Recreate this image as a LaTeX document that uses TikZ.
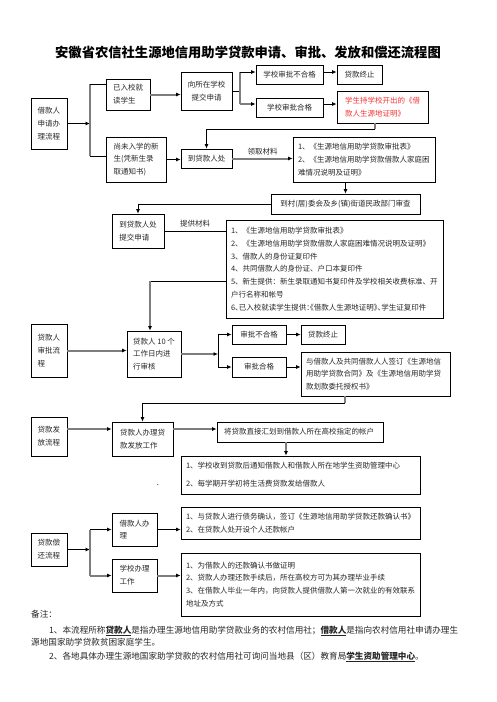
\documentclass[tikz,border=0pt]{standalone}
\usepackage{fontspec}
\setmainfont{Noto Sans CJK SC}
\usetikzlibrary{arrows.meta}
\definecolor{linegray}{RGB}{125,125,125}
\definecolor{proofred}{RGB}{245,50,50}
\newcommand{\boxfont}{\fontsize{7.5}{12.8}\selectfont}
\newcommand{\notefont}{\fontsize{8.6}{11.3}\selectfont}
\newcommand{\keyword}[1]{\underline{\textbf{#1}}}

\begin{document}
\begin{tikzpicture}[x=1pt,y=-1pt,
    flowbox/.style={draw=black, line width=0.8pt, inner sep=0pt, align=left, font=\boxfont, text=black!85},
    listbox/.style={flowbox, inner xsep=5pt, text width=#1},
    thinline/.style={draw=black, line width=0.8pt},
    grayline/.style={draw=linegray, line width=2pt},
    arr/.style={-{Latex[length=4.5pt,width=4pt,color=black]}},
    matlabel/.style={font=\boxfont, text=black!85, inner sep=1pt},
    notetext/.style={anchor=west, font=\notefont, text=black!85, inner sep=0pt}]
    \useasboundingbox (0,0) rectangle (496,702);

    \node[font=\fontsize{13.3}{16}\selectfont\bfseries] (title) at (248,52) {安徽省农信社生源地信用助学贷款申请、审批、发放和偿还流程图};

    % application
    \node[flowbox, minimum width=36pt, minimum height=51pt] (apply) at (49,123.5) {借款人\\申请办\\理流程};
    \node[flowbox, minimum width=44pt, minimum height=31pt] (enrolled) at (128,94.5) {已入校就\\读学生};
    \node[flowbox, align=center, minimum width=51pt, minimum height=38pt] (school) at (206.5,91) {向所在学校\\提交申请};
    \node[flowbox, minimum width=67pt, minimum height=19pt] (failone) at (289.5,74.5) {学校审批不合格};
    \node[flowbox, minimum width=45pt, minimum height=19pt] (stopone) at (359.5,74.5) {贷款终止};
    \node[flowbox, minimum width=67pt, minimum height=19pt] (passone) at (289.5,107.5) {学校审批合格};
    \node[flowbox, text=proofred, minimum width=91pt, minimum height=32pt] (proof) at (382.5,107) {学生持学校开出的《借\\款人生源地证明》};
    \node[flowbox, minimum width=60pt, minimum height=45pt] (newstu) at (136,159.5) {尚未入学的新\\生(凭新生录\\取通知书)};
    \node[flowbox, minimum width=51pt, minimum height=19pt] (lender) at (206.5,158.5) {到贷款人处};
    \node[listbox=132pt, minimum width=142pt, minimum height=45pt] (matone) at (364,159.5) {1、《生源地信用助学贷款审批表》\\2、《生源地信用助学贷款借款人家庭困\\难情况说明及证明》};
    \node[flowbox, minimum width=149pt, minimum height=20pt] (village) at (345.5,204) {到村(居)委会及乡(镇)街道民政部门审查};
    \node[flowbox, minimum width=52pt, minimum height=34pt] (submit) at (138,231) {到贷款人处\\提交申请};
    \node[listbox=207pt, minimum width=217pt, minimum height=98pt] (mattwo) at (334.5,269) {1、《生源地信用助学贷款审批表》\\2、《生源地信用助学贷款借款人家庭困难情况说明及证明》\\3、借款人的身份证复印件\\4、共同借款人的身份证、户口本复印件\\5、新生提供：新生录取通知书复印件及学校相关收费标准、开\\户行名称和帐号\\{\addfontfeature{RawFeature=+halt}6、已入校就读学生提供：《借款人生源地证明》、学生证复印件}};

    % review
    \node[flowbox, minimum width=36pt, minimum height=53pt] (review) at (49,350.5) {贷款人\\审批流\\程};
    \node[flowbox, minimum width=54pt, minimum height=46pt] (check) at (154,354) {贷款人 10 个\\工作日内进\\行审核};
    \node[flowbox, minimum width=54pt, minimum height=19pt] (failtwo) at (259,334.5) {审批不合格};
    \node[flowbox, minimum width=44pt, minimum height=19pt] (stoptwo) at (323,334.5) {贷款终止};
    \node[flowbox, minimum width=54pt, minimum height=20pt] (passtwo) at (259,367) {审批合格};
    \node[listbox=139pt, minimum width=149pt, minimum height=44pt] (contract) at (375.5,374) {与借款人及共同借款人人签订《生源地信\\用助学贷款合同》及《生源地信用助学贷\\款划款委托授权书》};

    % issue
    \node[flowbox, minimum width=36pt, minimum height=39pt] (issue) at (49,436.5) {贷款发\\放流程};
    \node[flowbox, minimum width=61pt, minimum height=34pt] (disburse) at (142.5,439) {贷款人办理贷\\款发放工作};
    \node[listbox=152pt, minimum width=166pt, inner xsep=7pt, minimum height=20pt] (transfer) at (300,432) {将贷款直接汇划到借款人所在高校指定的帐户};
    \node[listbox=229pt, minimum width=239pt, minimum height=38pt] (notify) at (300.5,475) {1、学校收到贷款后通知借款人和借款人所在地学生资助管理中心\\[5pt]2、每学期开学初将生活费贷款发给借款人};
    \node[font=\boxfont, inner sep=0pt] (dot) at (158,485) {.};

    % repayment
    \node[flowbox, minimum width=36pt, minimum height=33pt] (repay) at (49,549.5) {贷款偿\\还流程};
    \node[flowbox, minimum width=45pt, minimum height=33pt] (borrower) at (134.5,529.5) {借款人办\\理};
    \node[flowbox, minimum width=45pt, minimum height=33pt] (schoolwork) at (134.5,575.5) {学校办理\\工作};
    \node[listbox=229pt, minimum width=239pt, minimum height=32pt] (confirm) at (300.5,523) {1、与贷款人进行债务确认，签订《生源地信用助学贷款还款确认书》\\2、在贷款人处开设个人还款帐户};
    \node[listbox=229pt, minimum width=239pt, minimum height=63pt] (certify) at (300.5,584.5) {1、为借款人的还款确认书做证明\\2、贷款人办理还款手续后，所在高校方可为其办理毕业手续\\3、在借款人毕业一年内，向贷款人提供借款人第一次就业的有效联系\\地址及方式};

    % notes
    \node[notetext] (remark) at (31,614) {备注：};
    \node[notetext] (noteone) at (49,631) {1、本流程所称\keyword{贷款人}是指办理生源地信用助学贷款业务的农村信用社；\keyword{借款人}是指向农村信用社申请办理生};
    \node[notetext] (noteonemore) at (31,642.3) {源地国家助学贷款贫困家庭学生。};
    \node[notetext] (notetwo) at (49,656.7) {2、各地具体办理生源地国家助学贷款的农村信用社可询问当地县（区）教育局\keyword{学生资助管理中心}。};

    % connectors
    \coordinate (sa) at (90,123.5);
    \coordinate (sat) at (90,84);
    \coordinate (sab) at (90,156);
    \draw[thinline, arr] (apply.east) -- (sa);
    \draw[grayline] (sat) -- (sab);
    \draw[thinline] (sat) -- (sat -| enrolled.west);
    \draw[thinline] (sab) -- (sab -| newstu.west);
    \draw[grayline, arr] (enrolled.east) -- (enrolled.east -| school.west);
    \coordinate (sb) at (240,91);
    \coordinate (sbt) at (240,72);
    \coordinate (sbb) at (240,104);
    \draw[thinline] (school.east) -- (sb);
    \draw[grayline] (sbt) -- (sbb);
    \draw[thinline, arr] (sbt) -- (sbt -| failone.west);
    \draw[grayline, arr] (sbb) -- (sbb -| passone.west);
    \draw[thinline, arr] (failone.east |- sbt) -- (stopone.west |- sbt);
    \draw[thinline, arr] (passone.east |- sbb) -- (proof.west |- sbb);
    \coordinate (ja) at (375,129);
    \draw[grayline] (ja |- proof.south) -- (ja);
    \draw[thinline, arr] (ja) -| (lender.north);
    \draw[thinline, arr] (newstu.east) -- (newstu.east -| lender.west);
    \draw[grayline, arr] (lender.east) -- node[matlabel, above=1pt] {领取材料} (lender.east -| matone.west);
    \draw[thinline, arr] (village.north |- matone.south) -- (village.north);
    \draw[thinline, arr] (village.west) -| (submit.north);
    \draw[thinline] (submit.east) -- node[matlabel, above=3pt] {提供材料} (submit.east -| mattwo.west);
    \coordinate (jb) at (150,281);
    \draw[thinline] (jb -| mattwo.west) -- (jb);
    \draw[grayline, arr] (jb) -- (jb |- check.north);
    \draw[grayline, arr] (review.east) -- (review.east -| check.west);
    \coordinate (sc) at (218,354);
    \draw[grayline, arr] (check.east) -- (sc);
    \draw[thinline, arr] (sc) |- (failtwo.west);
    \draw[thinline, arr] (sc) |- (passtwo.west);
    \draw[thinline, arr] (failtwo.east) -- (stoptwo.west);
    \draw[thinline, arr] (passtwo.east) -- (passtwo.east -| contract.west);
    \coordinate (jc) at (345,403);
    \draw[grayline] (jc |- contract.south) -- (jc);
    \draw[thinline, arr] (jc) -| (disburse.north);
    \coordinate (rowd) at (0,429);
    \draw[grayline, arr] (issue.east |- rowd) -- (disburse.west |- rowd);
    \draw[grayline, arr] (disburse.east |- rowd) -- (transfer.west |- rowd);
    \coordinate (jd) at (286,0);
    \draw[grayline, arr] (jd |- transfer.south) -- (jd |- notify.north);
    \coordinate (sd) at (90,549.5);
    \draw[thinline, arr] (repay.east) -- (sd);
    \draw[grayline] (sd |- borrower.west) -- (sd |- schoolwork.west);
    \draw[thinline, arr] (sd |- borrower.west) -- (borrower.west);
    \draw[grayline, arr] (sd |- schoolwork.west) -- (schoolwork.west);
    \draw[thinline, arr] (borrower.east) -- (borrower.east -| confirm.west);
    \draw[grayline, arr] (schoolwork.east) -- (schoolwork.east -| certify.west);
\end{tikzpicture}
\end{document}
